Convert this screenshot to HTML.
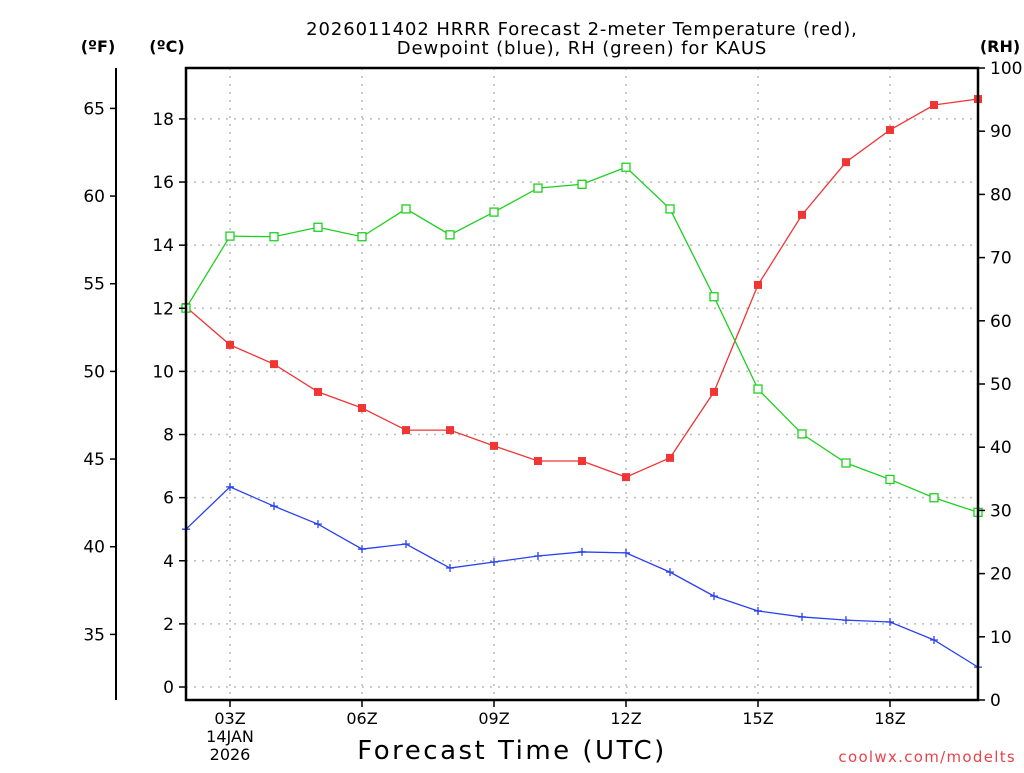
<!DOCTYPE html>
<html><head><meta charset="utf-8"><style>
html,body{margin:0;padding:0;background:#fff;}
svg text{font-family:"DejaVu Sans","Liberation Sans",sans-serif;}
</style></head><body>
<svg id="chart" width="1024" height="768" xmlns="http://www.w3.org/2000/svg">
<g id="grid"></g>
<g id="series"></g>
<g id="axes"></g>
<text x="582" y="35" text-anchor="middle" font-size="18" letter-spacing="0.9" fill="#000">2026011402 HRRR Forecast 2-meter Temperature (red),</text>
<text x="582" y="54" text-anchor="middle" font-size="18" letter-spacing="0.9" fill="#000">Dewpoint (blue), RH (green) for KAUS</text>
<text x="98" y="52" text-anchor="middle" font-size="16" font-weight="bold">(ºF)</text>
<text x="167" y="52" text-anchor="middle" font-size="16" font-weight="bold">(ºC)</text>
<text x="1000" y="52" text-anchor="middle" font-size="16" font-weight="bold">(RH)</text>
<text x="512" y="759" text-anchor="middle" font-size="26" letter-spacing="2.5">Forecast Time (UTC)</text>
<text x="230" y="742" text-anchor="middle" font-size="16">14JAN</text>
<text x="230" y="760" text-anchor="middle" font-size="16">2026</text>
<text x="1016" y="762" text-anchor="end" font-size="15" fill="#e8434a" letter-spacing="1.3">coolwx.com/modelts</text>
</svg>
<script>
const hours=[2,3,4,5,6,7,8,9,10,11,12,13,14,15,16,17,18,19,20];
const tempC=[12.04,10.84,10.23,9.35,8.84,8.14,8.14,7.64,7.16,7.16,6.65,7.26,9.35,12.74,14.96,16.63,17.65,18.44,18.63];
const dewC=[5.0,6.34,5.73,5.16,4.37,4.53,3.77,3.96,4.15,4.28,4.25,3.64,2.88,2.41,2.22,2.12,2.06,1.49,0.63];
const rh=[62.0,73.4,73.3,74.8,73.3,77.7,73.6,77.2,81.0,81.6,84.3,77.7,63.8,49.2,42.1,37.5,34.9,32.0,29.7];
const xTicks=[3,6,9,12,15,18];
const xTickLabels=["03Z","06Z","09Z","12Z","15Z","18Z"];
const cTicks=[0,2,4,6,8,10,12,14,16,18];
const fTicks=[35,40,45,50,55,60,65];
const rhTicks=[0,10,20,30,40,50,60,70,80,90,100];

const L=186,R=978,T=68,B=700;
const xS=h=>L+(h-2)*(R-L)/18;
const yC=c=>687-c*31.56;
const yF=f=>yC((f-32)*5/9);
const yR=r=>B-r*(B-T)/100;
const NS="http://www.w3.org/2000/svg";
function mk(parent,tag,attrs){const e=document.createElementNS(NS,tag);for(const k in attrs)e.setAttribute(k,attrs[k]);parent.appendChild(e);return e;}
const grid=document.getElementById('grid'),axes=document.getElementById('axes'),series=document.getElementById('series');
const dot={stroke:"#bbb","stroke-width":1.5,"stroke-dasharray":"2,6"};
xTicks.forEach((h,i)=>{
  const g=mk(grid,'line',Object.assign({x1:xS(h),x2:xS(h),y1:T,y2:B},dot));
  
  const t=mk(axes,'line',{x1:xS(h),x2:xS(h),y1:B,y2:B+7,stroke:"#000","stroke-width":1.5});
  
  const l=mk(axes,'text',{x:xS(h),y:724,"text-anchor":"middle","font-size":16});l.textContent=xTickLabels[i];
  
});
cTicks.forEach(c=>{
  const g=mk(grid,'line',Object.assign({x1:L,x2:R,y1:yC(c),y2:yC(c)},dot));
  
  const t=mk(axes,'line',{x1:L-7,x2:L,y1:yC(c),y2:yC(c),stroke:"#000","stroke-width":1.5});
  
  const l=mk(axes,'text',{x:L-12,y:yC(c)+6,"text-anchor":"end","font-size":17});l.textContent=c;
  
});
const fl=mk(axes,'line',{x1:116,x2:116,y1:T,y2:B,stroke:"#000","stroke-width":2});

fTicks.forEach(f=>{
  const t=mk(axes,'line',{x1:110,x2:116,y1:yF(f),y2:yF(f),stroke:"#000","stroke-width":1.5});
  
  const l=mk(axes,'text',{x:105,y:yF(f)+6,"text-anchor":"end","font-size":17});l.textContent=f;
  
});
rhTicks.forEach(r=>{
  const t=mk(axes,'line',{x1:R,x2:R+7,y1:yR(r),y2:yR(r),stroke:"#000","stroke-width":1.5});
  
  const l=mk(axes,'text',{x:R+12,y:yR(r)+6,"text-anchor":"start","font-size":17});l.textContent=r;
  
});
const fr=mk(axes,'rect',{x:L,y:T,width:R-L,height:B-T,fill:"none",stroke:"#000","stroke-width":2.5});


function line(vals,yf,color,name){
  const pts=vals.map((v,i)=>xS(hours[i])+","+yf(v)).join(" ");
  const p=mk(series,'polyline',{points:pts,fill:"none",stroke:color,"stroke-width":1.3});
  
}
line(tempC,yC,"#f03535","temperature");
line(dewC,yC,"#2840f0","dewpoint");
line(rh,yR,"#1ed01e","rh");
tempC.forEach((v,i)=>{
  const m=mk(series,'rect',{x:xS(hours[i])-4,y:yC(v)-4,width:8,height:8,fill:"#f03535"});
  
});
rh.forEach((v,i)=>{
  const m=mk(series,'rect',{x:xS(hours[i])-4,y:yR(v)-4,width:8,height:8,fill:"#fff",stroke:"#1ed01e","stroke-width":1.3});
  
});
dewC.forEach((v,i)=>{
  const x=xS(hours[i]),y=yC(v);
  const m=mk(series,'path',{d:`M${x-4},${y}H${x+4}M${x},${y-4}V${y+4}`,stroke:"#2840f0","stroke-width":1.3});
  
});
</script>
</body></html>
